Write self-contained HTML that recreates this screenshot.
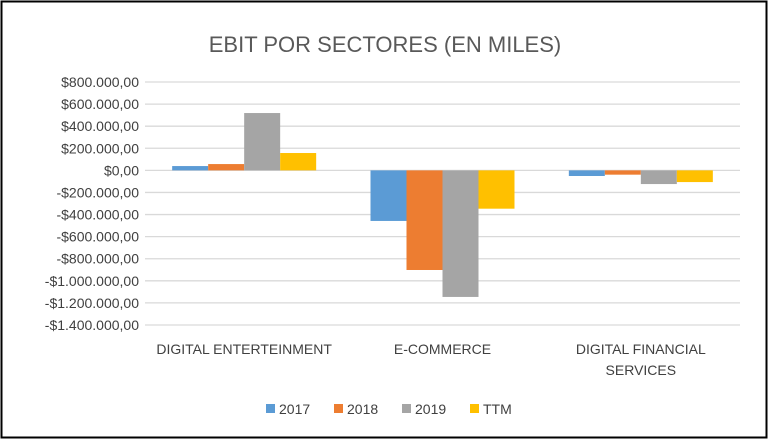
<!DOCTYPE html>
<html><head><meta charset="utf-8"><style>
body{margin:0;background:#fff;}
svg{display:block;font-family:"Liberation Sans",sans-serif;}
</style></head><body>
<svg id="c" width="770" height="445">
<rect x="1.5" y="1.5" width="765" height="436" fill="#fff" stroke="#000" stroke-width="2"/>
<text x="385" y="52" text-anchor="middle" font-size="22" fill="#595959">EBIT POR SECTORES (EN MILES)</text>
<g id="grid"></g><g id="bars"></g><g id="labels"></g><g id="legend"></g>
</svg>
<script>
const categories=[["DIGITAL ENTERTEINMENT"],["E-COMMERCE"],["DIGITAL FINANCIAL","SERVICES"]];
const seriesNames=["2017","2018","2019","TTM"];
const seriesColors=["#5b9bd5","#ed7d31","#a5a5a5","#ffc000"];
const s2017=[39000,-458000,-51000];
const s2018=[57000,-902000,-39000];
const s2019=[519000,-1146000,-124000];
const sTTM=[157000,-347000,-106000];
const ticks=[800000,600000,400000,200000,0,-200000,-400000,-600000,-800000,-1000000,-1200000,-1400000];
const tickLabels=["$800.000,00","$600.000,00","$400.000,00","$200.000,00","$0,00","-$200.000,00","-$400.000,00","-$600.000,00","-$800.000,00","-$1.000.000,00","-$1.200.000,00","-$1.400.000,00"];
const series=[s2017,s2018,s2019,sTTM];
const NS="http://www.w3.org/2000/svg";
const L=145,R=740,T=82,B=325,ymax=800000,ymin=-1400000;
const y=v=>T+(ymax-v)/(ymax-ymin)*(B-T);
const cw=(R-L)/categories.length;
const bw=36;
function mk(tag,attrs,parent){const e=document.createElementNS(NS,tag);for(const k in attrs)e.setAttribute(k,attrs[k]);document.getElementById(parent).appendChild(e);return e;}
ticks.forEach((t,i)=>{
 const l=mk('line',{x1:L,x2:R,y1:y(t),y2:y(t),stroke:'#d9d9d9','stroke-width':1.3},'grid');
 
 
 const tx=mk('text',{x:L-6,y:y(t)+5,'text-anchor':'end','font-size':14,fill:'#404040'},'grid');
 tx.textContent=tickLabels[i];
 
 
});
categories.forEach((c,ci)=>{
 const cx=L+cw*(ci+0.5);
 series.forEach((s,si)=>{
  const v=s[ci];const x=cx-2*bw+si*bw;
  const r=mk('rect',{x:x,y:Math.min(y(v),y(0)),width:bw,height:Math.abs(y(v)-y(0)),fill:seriesColors[si]},'bars');
  
  
 });
 c.forEach((line,li)=>{
  const t=mk('text',{x:cx,y:354+li*21,'text-anchor':'middle','font-size':14,fill:'#404040'},'labels');
  t.textContent=line;
  
  
 });
});
const lx=[266,334,402,470];
seriesNames.forEach((n,i)=>{
 const r=mk('rect',{x:lx[i],y:404,width:9,height:9,fill:seriesColors[i]},'legend');
 
 
 const t=mk('text',{x:lx[i]+13,y:414,'font-size':14,fill:'#404040'},'legend');
 t.textContent=n;
 
 
});
</script>
</body></html>
